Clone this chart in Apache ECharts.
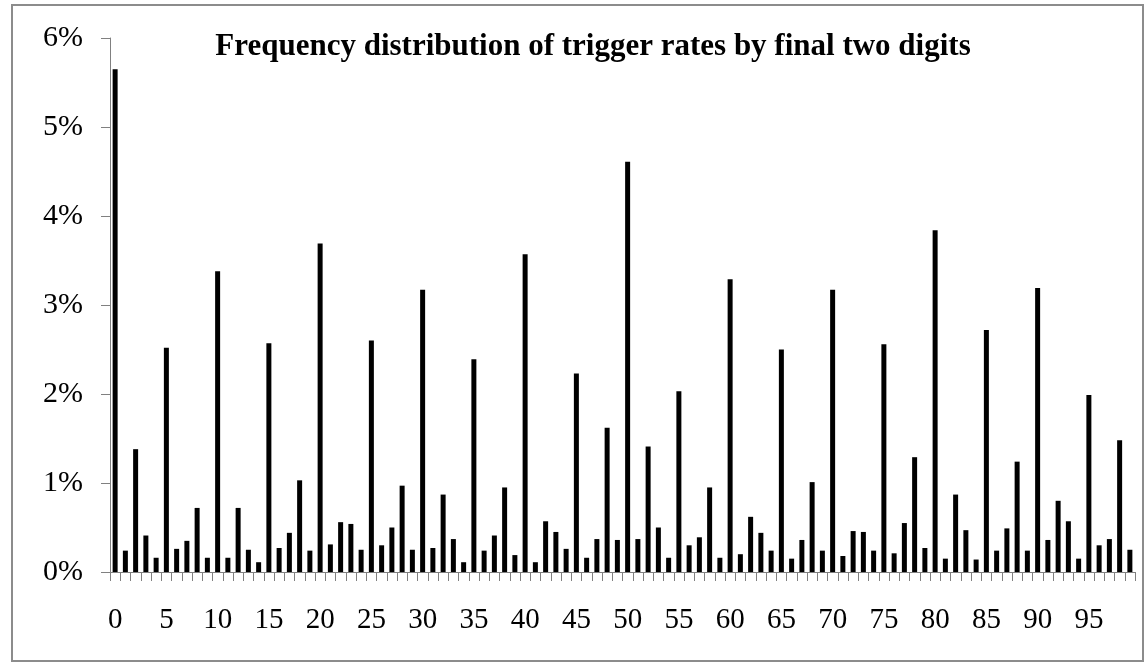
<!DOCTYPE html>
<html>
<head>
<meta charset="utf-8">
<script src="https://cdn.jsdelivr.net/npm/echarts@6/dist/echarts.min.js"></script>
<style>
  html, body { margin: 0; padding: 0; background: #fff; }
  #chart { width: 1146px; height: 662px; }
</style>
</head>
<body>
<div id="chart"></div>
<script>
// final two digits 0..99
const digits = [];
for (let i = 0; i < 100; i++) digits.push(String(i));

// share of trigger rates (%) for each final two digits
const shares = [
  5.65, 0.24, 1.38, 0.41, 0.16, 2.52, 0.26, 0.35, 0.72, 0.16,
  3.38, 0.16, 0.72, 0.25, 0.11, 2.57, 0.27, 0.44, 1.03, 0.24,
  3.69, 0.31, 0.56, 0.54, 0.25, 2.60, 0.30, 0.50, 0.97, 0.25,
  3.17, 0.27, 0.87, 0.37, 0.11, 2.39, 0.24, 0.41, 0.95, 0.19,
  3.57, 0.11, 0.57, 0.45, 0.26, 2.23, 0.16, 0.37, 1.62, 0.36,
  4.61, 0.37, 1.41, 0.50, 0.16, 2.03, 0.30, 0.39, 0.95, 0.16,
  3.29, 0.20, 0.62, 0.44, 0.24, 2.50, 0.15, 0.36, 1.01, 0.24,
  3.17, 0.18, 0.46, 0.45, 0.24, 2.56, 0.21, 0.55, 1.29, 0.27,
  3.84, 0.15, 0.87, 0.47, 0.14, 2.72, 0.24, 0.49, 1.24, 0.24,
  3.19, 0.36, 0.80, 0.57, 0.15, 1.99, 0.30, 0.37, 1.48, 0.25
];

const chartTitle = "Frequency distribution of trigger rates by final two digits";

const serif = "'Liberation Serif', 'Times New Roman', serif";
const axisGrey = "#808080";

const chart = echarts.init(document.getElementById("chart"));

const option = {
  animation: false,
  backgroundColor: "#fff",
  title: {
    text: chartTitle,
    left: 588,
    textAlign: "center",
    top: 26,
    textStyle: {
      fontFamily: serif,
      fontWeight: "bold",
      fontSize: 31,
      color: "#000",
    },
  },
  graphic: [
    {
      // outer frame round the chart
      type: "rect",
      shape: { x: 12, y: 5, width: 1131, height: 656 },
      style: { fill: null, stroke: "#8c8c8c", lineWidth: 2 },
      silent: true,
    },
  ],
  grid: {
    left: 110,
    right: 11,
    top: 38,
    bottom: 90,
  },
  xAxis: {
    type: "category",
    data: digits,
    boundaryGap: true,
    axisLine: { lineStyle: { color: axisGrey, width: 1 } },
    axisTick: {
      show: true,
      interval: 0,
      length: 9,
      lineStyle: { color: axisGrey, width: 1 },
    },
    axisLabel: {
      interval: 4,
      margin: 34,
      fontFamily: serif,
      fontSize: 29,
      color: "#000",
    },
    splitLine: { show: false },
  },
  yAxis: {
    type: "value",
    min: 0,
    max: 6,
    interval: 1,
    axisLine: { show: true, lineStyle: { color: axisGrey, width: 1 } },
    axisTick: { show: true, length: 9, lineStyle: { color: axisGrey } },
    axisLabel: {
      formatter: "{value}%",
      margin: 27,
      fontFamily: serif,
      fontSize: 30,
      color: "#000",
    },
    splitLine: { show: false },
  },
  series: [
    {
      type: "bar",
      data: shares,
      barWidth: 5,
      itemStyle: { color: "#000" },
    },
  ],
};
chart.setOption(option);
</script>
</body>
</html>
